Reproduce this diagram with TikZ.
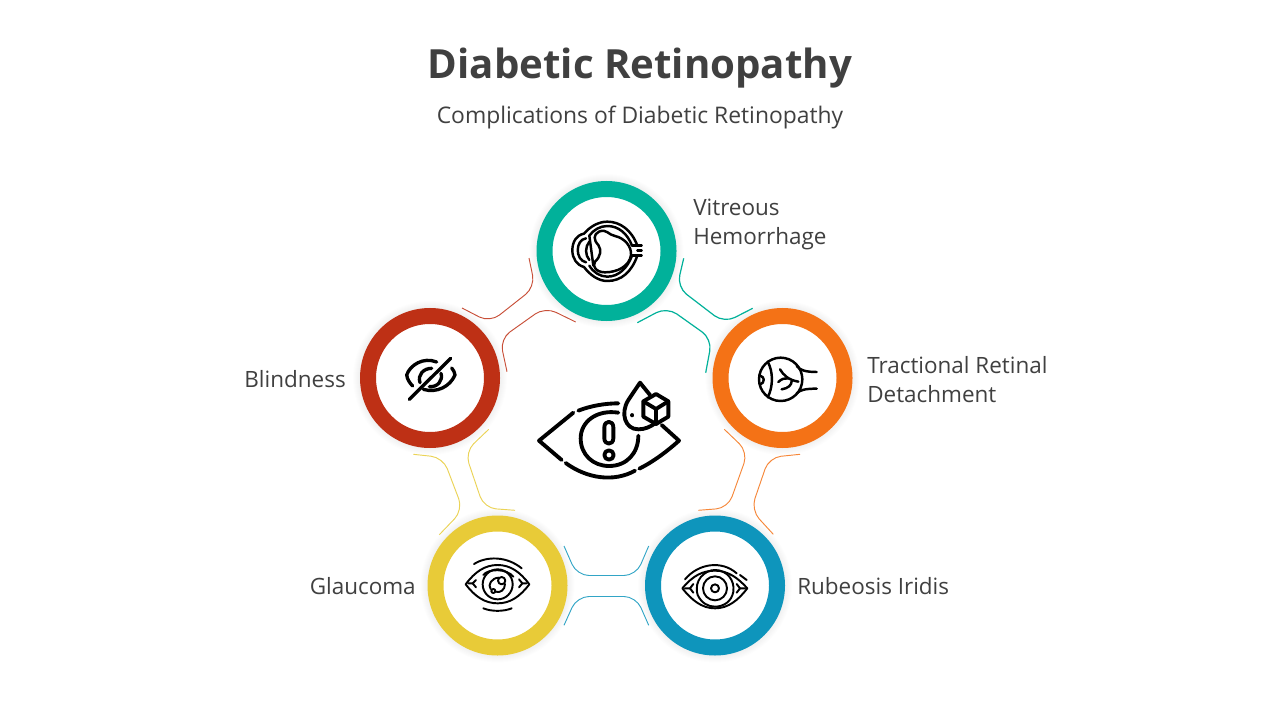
\documentclass[tikz,border=0pt]{standalone}
\usepackage{fontspec}
\setmainfont{Open Sans}
\definecolor{inkgrey}{RGB}{64,64,64}
\definecolor{ringgreen}{RGB}{1,177,154}
\definecolor{ringorange}{RGB}{244,114,22}
\definecolor{ringred}{RGB}{190,48,21}
\definecolor{ringyellow}{RGB}{232,203,56}
\definecolor{ringblue}{RGB}{14,149,188}
\tikzset{
  ringnode/.style={circle,draw=#1,fill=white,line width=12pt,minimum size=93pt,inner sep=0pt},
  linkline/.style={draw=#1,line width=0.7pt,rounded corners=9pt},
  iconline/.style={draw=black,line width=1.85pt,line cap=round,line join=round},
  iconthin/.style={draw=black,line width=1.45pt,line cap=round,line join=round},
  iconmid/.style={draw=black,line width=2.5pt,line cap=round,line join=round},
  iconbold/.style={draw=black,line width=2.9pt,line cap=round,line join=round},
  labeltext/.style={text=inkgrey,inner sep=0pt,align=left,font=\fontsize{16.85}{21.75}\selectfont},
  zoomed/.style={x=0.25pt,y=-0.25pt}
}
\begin{document}
\begin{tikzpicture}[x=0.75pt,y=-0.75pt]
  \useasboundingbox (0,0) rectangle (1280,720);
  \fill[white] (0,0) rectangle (1280,720);

  % Title
  \node[text=inkgrey,inner sep=0pt,font=\fontsize{30.15}{36}\selectfont\bfseries] (title) at (640,68) {Diabetic Retinopathy};
  \node[text=inkgrey,inner sep=0pt,font=\fontsize{17.15}{20}\selectfont] (subtitle) at (640,118) {Complications of Diabetic Retinopathy};

  % Soft shadows
  \foreach \x/\y in {606.5/251,782.5/378,430/378,497.5/585.5,715/585.5} {
    \foreach \r in {71,72,73,74,75,76,77} {
      \fill[black,opacity=0.007] (\x,\y) circle (\r);
    }
  }

  % Rings
  \foreach \name/\x/\y/\col in {vitreous/606.5/251/ringgreen,tractional/782.5/378/ringorange,blindness/430/378/ringred,glaucoma/497.5/585.5/ringyellow,rubeosis/715/585.5/ringblue} {
    \node[ringnode=\col] (\name) at (\x,\y) {};
  }

  % Labels
  \node[labeltext,anchor=west] (vitreouslabel) at (693,224.5) {Vitreous\\Hemorrhage};
  \node[labeltext,anchor=west] (tractionallabel) at (867,380) {Tractional Retinal\\Detachment};
  \node[labeltext,anchor=east] (blindnesslabel) at (346,379) {Blindness};
  \node[labeltext,anchor=east] (glaucomalabel) at (416,586) {Glaucoma};
  \node[labeltext,anchor=west] (rubeosislabel) at (797,586) {Rubeosis Iridis};

  % Connector ends
  \coordinate (redupA) at (529,258);
  \coordinate (redupB) at (462,308);
  \coordinate (redlowA) at (575.7,322);
  \coordinate (redlowB) at (507,371.7);
  \coordinate (greenupA) at (683.7,258.3);
  \coordinate (greenupB) at (752.7,308.3);
  \coordinate (greenlowA) at (637.3,322.7);
  \coordinate (greenlowB) at (705.7,372.7);
  \coordinate (orangeinA) at (724.3,429.3);
  \coordinate (orangeinB) at (698.3,510.3);
  \coordinate (orangeoutA) at (800,454.3);
  \coordinate (orangeoutB) at (773.3,534.3);
  \coordinate (blueupA) at (564,546);
  \coordinate (blueupB) at (648.7,546);
  \coordinate (bluelowA) at (564,625.3);
  \coordinate (bluelowB) at (648.7,625.3);
  \coordinate (yellowinA) at (488.7,429.3);
  \coordinate (yellowinB) at (515,510.3);
  \coordinate (yellowoutA) at (413.3,454.3);
  \coordinate (yellowoutB) at (439.3,534.7);

  % Connectors
  \draw[linkline={ringred!85}] (redupA) -- (535,287) -- (490,322.5) -- (redupB);
  \draw[linkline={ringred!85}] (redlowA) -- (545,307) -- (500,339) -- (redlowB);
  \draw[linkline=ringgreen,line width=0.9pt] (greenupA) -- (677,287) -- (724,323) -- (greenupB);
  \draw[linkline=ringgreen,line width=0.9pt] (greenlowA) -- (667,307) -- (712,339) -- (greenlowB);
  \draw[linkline={ringorange!85}] (orangeinA) -- (748,452) -- (728,508) -- (orangeinB);
  \draw[linkline={ringorange!85}] (orangeoutA) -- (769,457.5) -- (751,510) -- (orangeoutB);
  \draw[linkline={ringblue!85}] (blueupA) -- (577,575.5) -- (636,575.5) -- (blueupB);
  \draw[linkline={ringblue!85}] (bluelowA) -- (577,596.5) -- (636,596.5) -- (bluelowB);
  \draw[linkline={ringyellow!85}] (yellowinA) -- (465,452) -- (484,508) -- (yellowinB);
  \draw[linkline={ringyellow!85}] (yellowoutA) -- (443,457.5) -- (463,510) -- (yellowoutB);

  % Central eye
  \begin{scope}[shift={(530,370)},zoomed]
    \draw[iconbold] (130,128) -- (27,212) -- (95,270);
    \draw[iconbold] (145,122) .. controls (180,108) and (225,100) .. (265,100);
    \draw[iconbold] (107,279) .. controls (170,325) and (250,338) .. (315,302);
    \draw[iconbold] (328,296) .. controls (370,275) and (410,245) .. (447,212) -- (395,165);
    \draw[iconbold] (265,128) .. controls (200,118) and (152,155) .. (152,205) .. controls (152,255) and (190,288) .. (237,288) .. controls (290,288) and (325,250) .. (325,197);
    \draw[iconbold] (223,172) .. controls (223,150) and (250,150) .. (250,172) -- (250,205) .. controls (250,226) and (223,226) .. (223,205) -- cycle;
    \draw[iconbold] (237,255) circle (14);
    \draw[iconbold] (360,75) -- (330,38) -- (295,90) .. controls (270,130) and (285,178) .. (325,178) .. controls (345,178) and (362,170) .. (375,160);
    \draw[iconbold] (307,135) -- (307,136);
    \draw[iconbold] (378,72) -- (415,94) -- (415,140) -- (378,162) -- (340,140) -- (340,94) -- cycle;
    \draw[iconbold] (340,94) -- (378,117) -- (415,94);
    \draw[iconbold] (378,117) -- (378,162);
  \end{scope}

  % Vitreous icon
  \begin{scope}[shift={(530,175)},zoomed]
    \draw[iconline] (322,212) .. controls (305,165) and (270,140) .. (232,140) .. controls (205,140) and (180,155) .. (162,176) .. controls (140,180) and (127,200) .. (127,226) .. controls (127,250) and (140,270) .. (162,276) .. controls (180,300) and (205,318) .. (232,318) .. controls (275,318) and (305,290) .. (322,242);
    \draw[iconline] (306,212) .. controls (292,175) and (265,153) .. (232,153) .. controls (210,153) and (190,165) .. (178,182);
    \draw[iconline] (306,242) .. controls (292,280) and (265,305) .. (232,305) .. controls (210,305) and (190,292) .. (178,272);
    \draw[iconline] (207,170) .. controls (230,160) and (235,180) .. (255,183) .. controls (285,190) and (305,215) .. (303,240) .. controls (298,275) and (260,292) .. (225,292) .. controls (200,292) and (185,275) .. (195,260) .. controls (212,245) and (215,225) .. (205,210) .. controls (190,195) and (190,178) .. (207,170);
    \draw[iconline] (306,212) -- (335,212);
    \draw[iconline] (306,242) -- (335,242);
    \draw[iconline] (322,227) -- (335,227);
    \draw[iconline] (178,182) -- (190,272);
    \draw[iconline] (168,190) .. controls (135,195) and (135,255) .. (168,262);
    \draw[iconline] (178,200) .. controls (165,215) and (165,240) .. (178,255);
  \end{scope}

  % Tractional icon
  \begin{scope}[shift={(740,340)},zoomed]
    \draw[iconline] (122,118) circle (65);
    \draw[iconline] (83,65) .. controls (100,95) and (100,140) .. (83,172);
    \draw[iconline] (60,107) .. controls (75,110) and (75,128) .. (60,134);
    \draw[iconline] (170,78) .. controls (180,90) and (195,96) .. (230,96);
    \draw[iconline] (170,160) .. controls (180,150) and (195,146) .. (230,146);
    \draw[iconline] (120,88) .. controls (130,105) and (145,120) .. (175,125);
    \draw[iconline] (115,126) .. controls (125,116) and (135,114) .. (145,115);
    \draw[iconline] (125,148) .. controls (145,145) and (155,135) .. (155,123);
  \end{scope}

  % Blindness icon
  \begin{scope}[shift={(390,340)},zoomed]
    \draw[iconmid] (58,178) -- (182,55);
    \draw[iconmid] (140,66) .. controls (100,50) and (60,75) .. (50,105) .. controls (52,118) and (58,128) .. (68,138);
    \draw[iconmid] (185,84) .. controls (190,90) and (195,98) .. (195,105) .. controls (180,140) and (140,160) .. (100,148);
    \draw[iconmid] (90,128) .. controls (82,105) and (100,85) .. (125,85);
    \draw[iconmid] (153,100) .. controls (160,122) and (142,142) .. (118,140);
  \end{scope}

  % Glaucoma icon
  \begin{scope}[shift={(450,540)},zoomed]
    \draw[iconthin] (47,133) .. controls (75,95) and (105,75) .. (143,75) .. controls (180,75) and (210,95) .. (238,133) .. controls (210,170) and (180,190) .. (143,190) .. controls (105,190) and (75,170) .. (47,133) -- cycle;
    \draw[iconthin] (72,72) .. controls (110,48) and (170,48) .. (215,85);
    \draw[iconthin] (100,205) .. controls (125,215) and (160,215) .. (185,205);
    \draw[iconthin] (143,133) circle (45);
    \draw[iconthin] (100,105) .. controls (115,85) and (170,85) .. (190,110);
    \draw[iconthin] (155,122) circle (11);
    \draw[iconthin] (130,153) circle (6);
    \draw[iconthin] (147,113) .. controls (125,113) and (112,135) .. (122,147);
    \draw[iconthin] (165,132) .. controls (165,150) and (150,160) .. (137,155);
    \draw[iconthin] (55,130) -- (68,130) -- (78,120);
    \draw[iconthin] (68,130) -- (78,142);
    \draw[iconthin] (230,130) -- (217,130) -- (207,118);
    \draw[iconthin] (217,130) -- (207,142);
  \end{scope}

  % Rubeosis icon
  \begin{scope}[shift={(665,540)},zoomed]
    \draw[iconthin] (52,145) .. controls (85,105) and (115,92) .. (150,92) .. controls (190,92) and (220,115) .. (247,145) .. controls (220,180) and (190,205) .. (150,205) .. controls (110,205) and (80,180) .. (52,145) -- cycle;
    \draw[iconthin] (60,118) .. controls (100,70) and (170,60) .. (215,100);
    \draw[iconthin] (225,105) -- (245,120);
    \draw[iconthin] (98,165) .. controls (85,120) and (120,90) .. (150,90) .. controls (185,90) and (210,120) .. (205,155) .. controls (200,185) and (175,200) .. (150,200) .. controls (130,200) and (110,190) .. (98,165);
    \draw[iconthin] (150,145) circle (36);
    \draw[iconthin] (150,145) circle (12);
    \draw[iconthin] (60,145) -- (75,145) -- (85,132);
    \draw[iconthin] (75,145) -- (85,158);
    \draw[iconthin] (240,145) -- (225,145) -- (215,132);
    \draw[iconthin] (225,145) -- (215,158);
  \end{scope}
\end{tikzpicture}
\end{document}
